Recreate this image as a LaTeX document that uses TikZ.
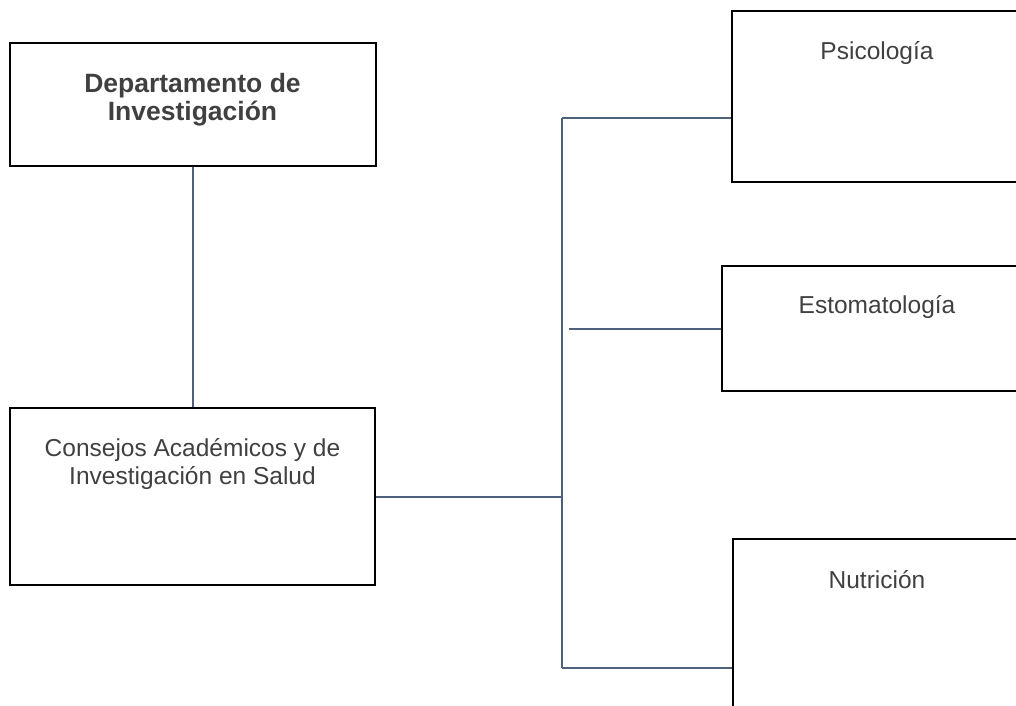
\documentclass[tikz,border=0pt]{standalone}
\usepackage{fontspec}
\setmainfont{Liberation Sans}
\usetikzlibrary{positioning}
\definecolor{linkblue}{RGB}{79,96,124}
\definecolor{txtgray}{RGB}{64,64,64}
\tikzset{
  unitbox/.style={draw=black, line width=2pt, rectangle, inner sep=0pt},
  unittxt/.style={anchor=base, align=center, text=txtgray, inner sep=0pt,
    font=\fontsize{24.5}{28}\selectfont},
  link/.style={draw=linkblue, line width=2pt}
}
\begin{document}
\begin{tikzpicture}[x=1pt,y=-1pt]
    \useasboundingbox (0,0) rectangle (1016,705);% page = reference size
    \clip (0,0) rectangle (1016,705);
    % boxes (right column runs off the page)
    \node[unitbox, minimum width=366pt, minimum height=123pt] (dep) at (192.5,104.5) {};
    \node[unitbox, minimum width=365pt, minimum height=177pt] (cons) at (192.5,496.5) {};
    \node[unitbox, minimum width=290pt, minimum height=171pt] (psico) at (877,96.5) {};
    \node[unitbox, minimum width=310pt, minimum height=125pt] (esto) at (877,328.5) {};
    \node[unitbox, minimum width=288pt, minimum height=180pt] (nutri) at (877,629) {};
    % texts (base = last line)
    \node[unittxt, font=\fontsize{26.5}{28}\selectfont\bfseries] (deptxt)
        at ([yshift=-78pt]dep.north) {Departamento de\\Investigación};
    \node[unittxt] (constxt) at ([yshift=-77pt]cons.north)
        {Consejos Académicos y de\\Investigación en Salud};
    \node[unittxt] (psicotxt) at ([yshift=-49pt]psico.north) {Psicología};
    \node[unittxt] (estotxt) at ([yshift=-48pt]esto.north) {Estomatología};
    \node[unittxt] (nutritxt) at ([yshift=-50pt]nutri.north) {Nutrición};
    % bus points
    \coordinate (bt) at (562,118);
    \coordinate (bb) at (562,668);
    \coordinate (bc) at (562,496.5);
    \coordinate (bm) at (569,328.5);
    % connectors
    \draw[link] (dep.south) -- (cons.north);
    \draw[link] (cons.east) -- (bc);
    \draw[link] (bt) -- (bb);
    \draw[link] (bt) -- (psico.west |- bt);
    \draw[link] (bm) -- (esto.west);
    \draw[link] (bb) -- (nutri.west |- bb);
\end{tikzpicture}
\end{document}
